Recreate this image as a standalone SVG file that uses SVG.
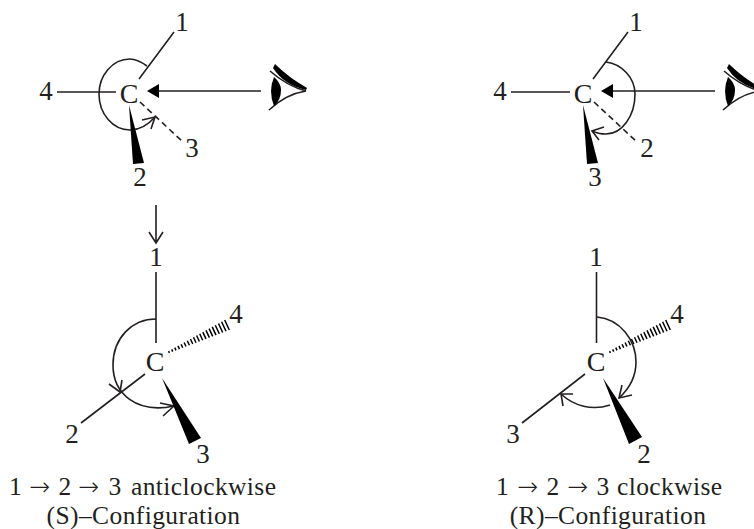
<svg xmlns="http://www.w3.org/2000/svg" width="754" height="529" viewBox="0 0 754 529">
<style>
text{font-family:"Liberation Serif","Times New Roman",serif;fill:#231f20}
.l,.c{text-anchor:middle}
.l{font-size:27px}
.c{font-size:28px}
.cap{font-size:25.5px;letter-spacing:.4px}
.a{font-family:"DejaVu Sans",sans-serif;font-size:25px;font-weight:200}
.m{text-anchor:middle}
.s{stroke:#231f20;stroke-width:1.6;fill:none}
.d{stroke-dasharray:6 4}
.f{fill:#000;stroke:none}
.h{stroke:#000;stroke-width:1.5;fill:none}
</style>
<defs>
<g id="eye">
<path class="f" d="M273 68L275 64Q288 77 307 88L306 90Q284 85 273 68Z"/>
<path class="s" d="M270 71Q287 86 306 91Q286 94 269 110"/>
<path class="f" d="M274 77Q268 91 274 106Q281 100 281 90Q281 83 274 77Z"/>
</g>
<path id="hash" class="h" d="M168.6 351.1L169.4 352.9M171.7 349.4L172.7 351.6M174.8 347.6L176 350.4M178 345.9L179.4 349.1M181.1 344.2L182.7 347.8M184.1 342.5L186 346.5M187.3 340.7L189.4 345.3M190.4 339L192.8 344M193.5 337.3L196 342.7M196.6 335.5L199.4 341.5M199.7 333.8L202.7 340.2M202.8 332.1L206 338.9M206 330.4L209.4 337.6M209.1 328.6L212.7 336.4M212.2 326.9L216 335.1M215.3 325.2L219.3 333.8M218.5 323.5L222.7 332.5M221.6 321.7L226 331.3M224.7 320L229.3 330"/>
</defs>
<g id="connectors">
<path class="s" d="M139 79L174 32M57 92H116"/>
<path class="s" d="M261 91H158"/><path class="f" d="M147 91L159 84V98Z"/>
<path class="s" d="M147 66C140 61 135 59 130 59C112 59 99 76 99 94C99 114 113 130 130 130C140 130 148 125 155 117"/>
<path class="s" d="M142 120L155 117L151 129"/>
<path class="s d" d="M140 102L183 142"/>
<path class="f" d="M129 105L133 164L144 163Z"/>
<path class="s" d="M593 79L628 32M511 92H570"/>
<path class="s" d="M715 91H612"/><path class="f" d="M601 91L613 84V98Z"/>
<path class="s" d="M606 62C622 64 635 78 635 94C635 116 622 134 606 134C601 134 596 133 592 131"/>
<path class="s" d="M604 127L592 131L599 140"/>
<path class="s d" d="M594 102L637 142"/>
<path class="f" d="M583 105L587 164L598 163Z"/>
<path class="s" d="M156 205V243M149 232L156 243L163 232"/>
<path class="s" d="M156 272V343"/>
<use href="#hash"/>
<path class="s" d="M156 319C132 319 113 338 113 365C113 394 137 414 174 406"/>
<path class="s" d="M109 384L120 392L122 380M160 403L174 406L163 416"/>
<path class="s" d="M145 374L81 423"/>
<path class="f" d="M162 378L189 444L201 438Z"/>
<path class="s" d="M596.5 272V343"/>
<use href="#hash" x="441"/>
<path class="s" d="M597 317C620 319 636 340 636 362C636 377 630 388 619 398M610 405C592 411 574 406 561 394"/>
<path class="s" d="M632 395L619 398L622 385M573 394L561 394L563 406"/>
<path class="s" d="M585 374L522 423"/>
<path class="f" d="M603 378L629 444L642 437Z"/>
</g>
<g id="eye-left"><use href="#eye"/></g>
<g id="eye-right"><use href="#eye" x="454"/></g>
<g id="s-top">
<text class="c" x="129" y="103">C</text>
<text class="l" x="182" y="31">1</text><text class="l" x="46" y="100">4</text>
<text class="l" x="192" y="157">3</text><text class="l" x="140" y="186">2</text>
</g>
<g id="r-top">
<text class="c" x="583" y="103">C</text>
<text class="l" x="636" y="31">1</text><text class="l" x="500" y="100">4</text>
<text class="l" x="647" y="157">2</text><text class="l" x="595" y="186">3</text>
</g>
<g id="s-bottom">
<text class="c" x="155" y="371">C</text>
<text class="l" x="156" y="266">1</text><text class="l" x="236" y="323">4</text>
<text class="l" x="72" y="443">2</text><text class="l" x="203" y="463">3</text>
<text class="cap" y="495"><tspan x="9">1</tspan><tspan class="a" x="29">→</tspan><tspan x="58.5">2</tspan><tspan class="a" x="78">→</tspan><tspan x="108.5">3</tspan><tspan x="131">anticlockwise</tspan></text>
<text class="cap m" x="143.5" y="523.5">(S)–Configuration</text>
</g>
<g id="r-bottom">
<text class="c" x="596" y="371">C</text>
<text class="l" x="596" y="266">1</text><text class="l" x="677" y="323">4</text>
<text class="l" x="513" y="443">3</text><text class="l" x="644" y="463">2</text>
<text class="cap" y="495"><tspan x="496">1</tspan><tspan class="a" x="517">→</tspan><tspan x="546.5">2</tspan><tspan class="a" x="567">→</tspan><tspan x="596.5">3</tspan><tspan x="617">clockwise</tspan></text>
<text class="cap m" x="608" y="523.5">(R)–Configuration</text>
</g>
</svg>
